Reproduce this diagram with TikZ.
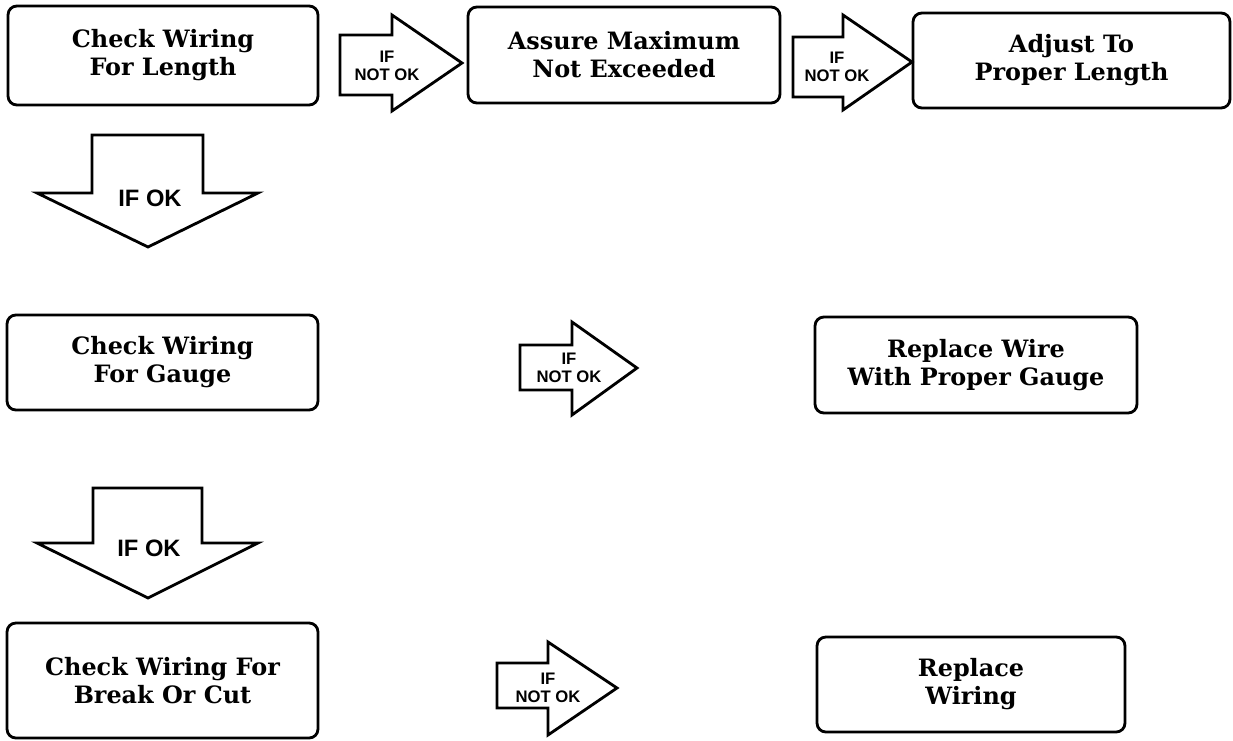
\documentclass[tikz,border=0pt]{standalone}
\usepackage{fontspec}
\setmainfont{DejaVu Serif}
\newfontfamily\labelfont{Liberation Sans}

\tikzset{
  taskbox/.style={draw, line width=1.6pt, rounded corners=5pt, align=center, inner sep=0pt,
    font=\bfseries\fontsize{13.6}{16}\selectfont},
  blockarrow/.style={draw, line width=1.6pt, line join=miter},
  notoklabel/.style={align=center, inner sep=0pt, font=\labelfont\bfseries\fontsize{9.5}{10.5}\selectfont},
  oklabel/.style={inner sep=0pt, font=\labelfont\bfseries\fontsize{13.5}{14}\selectfont}
}

\begin{document}
\begin{tikzpicture}[x=0.02cm,y=-0.02cm]
\useasboundingbox (0,0) rectangle (1233,740);

% boxes
\node[taskbox, minimum width=6.2cm, minimum height=1.98cm] (length) at (163,55.5) {Check Wiring\\For Length};
\node[taskbox, minimum width=6.24cm, minimum height=1.92cm] (maxlen) at (624,55) {Assure Maximum\\Not Exceeded};
\node[taskbox, minimum width=6.34cm, minimum height=1.9cm] (adjust) at (1071.5,60.5) {Adjust To\\Proper Length};
\node[taskbox, minimum width=6.22cm, minimum height=1.9cm] (gauge) at (162.5,362.5) {Check Wiring\\For Gauge};
\node[taskbox, minimum width=6.44cm, minimum height=1.92cm] (replgauge) at (976,365) {Replace Wire\\With Proper Gauge};
\node[taskbox, minimum width=6.22cm, minimum height=2.3cm] (breakcut) at (162.5,680.5) {Check Wiring For\\Break Or Cut};
\node[taskbox, minimum width=6.16cm, minimum height=1.9cm] (replwiring) at (971,684.5) {Replace\\Wiring};

% right arrows
\draw[blockarrow] (340,35) -- (392,35) -- (392,15) -- (462,63) -- (392,111) -- (392,95) -- (340,95) -- cycle;
\node[notoklabel] (notok1) at (387,66) {IF\\NOT OK};
\draw[blockarrow] (793,37) -- (843,37) -- (843,15) -- (912,62) -- (843,110) -- (843,97) -- (793,97) -- cycle;
\node[notoklabel] (notok2) at (837,67) {IF\\NOT OK};
\draw[blockarrow] (520,345) -- (572,345) -- (572,322) -- (637,368) -- (572,415) -- (572,390) -- (520,390) -- cycle;
\node[notoklabel] (notok3) at (569,368) {IF\\NOT OK};
\draw[blockarrow] (497,663) -- (548,663) -- (548,642) -- (617,688) -- (548,735) -- (548,708) -- (497,708) -- cycle;
\node[notoklabel] (notok4) at (548,688) {IF\\NOT OK};

% down arrows
\draw[blockarrow] (92,135) -- (203,135) -- (203,193) -- (258,193) -- (148,247) -- (37,193) -- (92,193) -- cycle;
\node[oklabel] (ok1) at (150,198) {IF OK};
\draw[blockarrow] (93,488) -- (202,488) -- (202,543) -- (258,543) -- (148,598) -- (37,543) -- (93,543) -- cycle;
\node[oklabel] (ok2) at (149,548) {IF OK};
\end{tikzpicture}
\end{document}
